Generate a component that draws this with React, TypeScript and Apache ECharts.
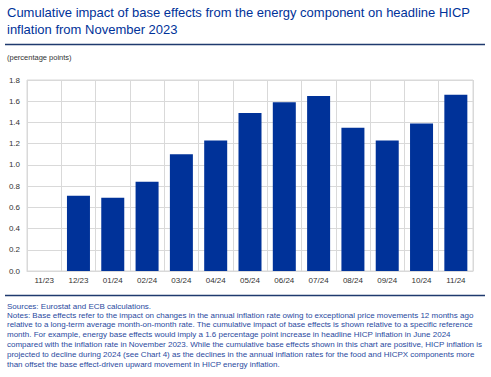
import React, { useEffect, useRef } from "react";
import * as echarts from "echarts";

const categories = ["11/23", "12/23", "01/24", "02/24", "03/24", "04/24", "05/24", "06/24", "07/24", "08/24", "09/24", "10/24", "11/24"];
const values = [0, 0.71, 0.69, 0.84, 1.1, 1.23, 1.49, 1.59, 1.65, 1.35, 1.23, 1.39, 1.66];
const yTicks = { min: 0, max: 1.8, interval: 0.2 };

const titleLines = [
  "Cumulative impact of base effects from the energy component on headline HICP",
  "inflation from November 2023",
];
const unitText = "(percentage points)";
const noteLines = [
  "Sources: Eurostat and ECB calculations.",
  "Notes: Base effects refer to the impact on changes in the annual inflation rate owing to exceptional price movements 12 months ago",
  "relative to a long-term average month-on-month rate. The cumulative impact of base effects is shown relative to a specific reference",
  "month. For example, energy base effects would imply a 1.6 percentage point increase in headline HICP inflation in June 2024",
  "compared with the inflation rate in November 2023. While the cumulative base effects shown in this chart are positive, HICP inflation is",
  "projected to decline during 2024 (see Chart 4) as the declines in the annual inflation rates for the food and HICPX components more",
  "than offset the base effect-driven upward movement in HICP energy inflation.",
];

const FONT = "Liberation Sans, Arial, sans-serif";
const BLUE = "#003299";

export default function App() {
  const ref = useRef<HTMLDivElement>(null);
  useEffect(() => {
    document.body.style.margin = "0";
    const chart = echarts.init(ref.current!, null, { renderer: "svg" });
    chart.setOption({
      animation: false,
      backgroundColor: "#ffffff",
      textStyle: { fontFamily: FONT },
      grid: { left: 27, right: 18, top: 80, bottom: 106, show: true, borderColor: "#d9d9d9", borderWidth: 1 },
      xAxis: {
        type: "category",
        data: categories,
        axisLine: { show: true, lineStyle: { color: "#d9d9d9" } },
        axisTick: { show: false },
        splitLine: { show: true, lineStyle: { color: "#d9d9d9", width: 1 } },
        axisLabel: { color: "#333333", fontSize: 8, fontFamily: FONT, margin: 5 },
      },
      yAxis: {
        type: "value",
        min: yTicks.min,
        max: yTicks.max,
        interval: yTicks.interval,
        axisLine: { show: false },
        axisTick: { show: false },
        splitLine: { show: true, lineStyle: { color: "#d9d9d9", width: 1 } },
        axisLabel: {
          color: "#333333",
          fontSize: 8,
          fontFamily: FONT,
          margin: 7,
          formatter: (v: number) => v.toFixed(1),
        },
      },
      series: [
        {
          type: "bar",
          data: values,
          barWidth: 23,
          itemStyle: { color: BLUE },
        },
      ],
      graphic: [
        ...titleLines.map((t, i) => ({
          type: "text",
          left: 7,
          top: 6 + i * 17,
          style: { text: t, fill: BLUE, font: `13px ${FONT}` },
        })),
        {
          type: "line",
          shape: { x1: 5, y1: 44.5, x2: 485, y2: 44.5 },
          style: { stroke: "#1f3a6e", lineWidth: 1.5 },
        },
        {
          type: "text",
          left: 7,
          top: 53,
          style: { text: unitText, fill: "#333333", font: `7.5px ${FONT}` },
        },
        {
          type: "line",
          shape: { x1: 5, y1: 295.5, x2: 485, y2: 295.5 },
          style: { stroke: "#1f3a6e", lineWidth: 1.5 },
        },
        ...noteLines.map((t, i) => ({
          type: "text",
          left: 7,
          top: 302 + i * 9.8 - (i === 0 ? 0 : 0.8),
          style: { text: t, fill: "#2a4aa0", font: `8px ${FONT}` },
        })),
      ],
    });
    return () => chart.dispose();
  }, []);
  return <div ref={ref} style={{ width: 491, height: 377 }} />;
}
